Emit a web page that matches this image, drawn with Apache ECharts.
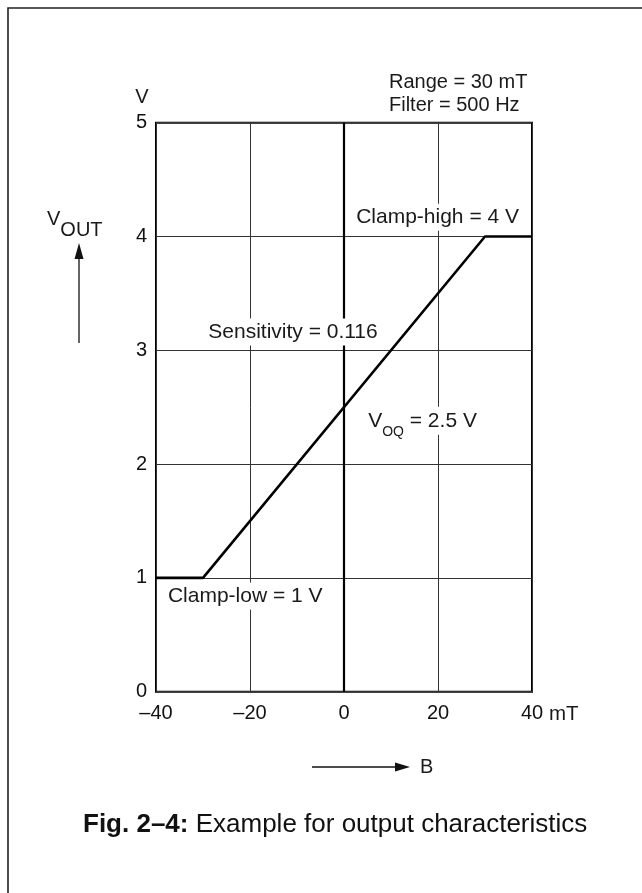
<!DOCTYPE html>
<html><head><meta charset="utf-8">
<script src="https://cdn.jsdelivr.net/npm/echarts@6/dist/echarts.min.js"></script>
<style>html,body{margin:0;padding:0;background:#fff}#c{width:642px;height:893px}</style>
</head><body><div id="c"></div>
<script>
(function () {
// ---- data ----
const curveB = [-40, -30, 30, 40];      // mT
const curveV = [1, 1, 4, 4];            // V
const xTickValues = [-40, -20, 0, 20, 40];
const xTickLabels = ['–40', '–20', '0', '20', '40'];
const yTickLabels = ['0', '1', '2', '3', '4', '5'];
const annotations = [
  { text: 'Sensitivity = 0.116', x: -10.85, y: 3.16, align: 'center' },
  { text: 'Clamp-high = 4 V', x: 1.95, y: 4.17, align: 'left' },
  { text: '{v|V}{s|OQ}{v| = 2.5 V}', x: 4.5, y: 2.38, align: 'left', rich: true },
  { text: 'Clamp-low = 1 V', x: -38.1, y: 0.84, align: 'left' }
];
const notes = [
  { text: 'Range = 30 mT', x: 9.57, y: 5.35 },
  { text: 'Filter = 500 Hz', x: 9.57, y: 5.155 }
];
const FONT = '"Liberation Sans", Arial, Helvetica, sans-serif';

const chart = echarts.init(document.getElementById('c'), null, { renderer: 'canvas' });
const GRID = { left: 156, top: 122.7, width: 376, height: 569 };

chart.setOption({
  animation: false,
  backgroundColor: '#fff',
  grid: Object.assign({ show: true, borderColor: '#000', borderWidth: 2, backgroundColor: 'transparent' }, GRID),
  xAxis: {
    type: 'value', min: -40, max: 40, interval: 20,
    axisLine: { show: false }, axisTick: { show: false },
    splitLine: { show: true, lineStyle: { color: '#333', width: 1 } },
    axisLabel: {
      margin: 12, color: '#111', fontSize: 20, fontFamily: FONT,
      formatter: v => { const i = xTickValues.indexOf(v); return i >= 0 ? xTickLabels[i] : ''; }
    }
  },
  yAxis: {
    type: 'value', min: 0, max: 5, interval: 1,
    axisLine: { show: false }, axisTick: { show: false },
    splitLine: { show: true, lineStyle: { color: '#333', width: 1 } },
    axisLabel: {
      margin: 9, color: '#111', fontSize: 20, fontFamily: FONT,
      formatter: v => yTickLabels[Math.round(v)] || ''
    }
  },
  series: [{
    type: 'line',
    data: curveB.map((b, i) => [b, curveV[i]]),
    symbol: 'none',
    lineStyle: { color: '#000', width: 2.6 },
    z: 5,
    markLine: {
      silent: true, symbol: ['none', 'none'], label: { show: false },
      lineStyle: { color: '#000', width: 2.2, type: 'solid' },
      data: [{ xAxis: 0 }]
    }
  }]
});

function px(x, y) { return chart.convertToPixel({ gridIndex: 0 }, [x, y]); }

const g = [];
const textBase = { fill: '#1a1a1a', fontSize: 21, fontFamily: FONT, verticalAlign: 'middle' };

annotations.forEach(a => {
  const p = px(a.x, a.y);
  const style = Object.assign({}, textBase, {
    text: a.text, align: a.align, backgroundColor: '#fff', padding: [3, 3, 3, 3]
  });
  if (a.rich) {
    style.rich = {
      v: { fontSize: 21, fontFamily: FONT, fill: '#1a1a1a', lineHeight: 22 },
      s: { fontSize: 14, fontFamily: FONT, fill: '#1a1a1a', lineHeight: 16, padding: [22, 0, 0, 0] }
    };
  }
  g.push({ type: 'text', x: p[0], y: p[1], z: 100, style });
});

notes.forEach(n => {
  const p = px(n.x, n.y);
  g.push({ type: 'text', x: p[0], y: p[1], z: 100,
    style: Object.assign({}, textBase, { text: n.text, align: 'left', fontSize: 20 }) });
});

// axis units
const tl = px(-40, 5);
g.push({ type: 'text', x: tl[0] - 14, y: tl[1] - 25, z: 100,
  style: Object.assign({}, textBase, { text: 'V', align: 'center', fontSize: 20 }) });
const xr = px(40, 0);
g.push({ type: 'text', x: xr[0] + 17, y: xr[1] + 23, z: 100,
  style: Object.assign({}, textBase, { text: 'mT', align: 'left', fontSize: 20.5 }) });

// V_OUT label + arrow
g.push({ type: 'text', x: 47, y: 219, z: 100,
  style: Object.assign({}, textBase, { text: '{v|V}{s|OUT}', align: 'left',
    rich: {
      v: { fontSize: 20, fontFamily: FONT, fill: '#1a1a1a', lineHeight: 20 },
      s: { fontSize: 20, fontFamily: FONT, fill: '#1a1a1a', lineHeight: 20, padding: [22, 0, 0, 0] }
    } }) });
g.push({ type: 'line', z: 100, shape: { x1: 79, y1: 343, x2: 79, y2: 256 }, style: { stroke: '#111', lineWidth: 1.3 } });
g.push({ type: 'polygon', z: 100, shape: { points: [[79, 243], [74.5, 259], [83.5, 259]] }, style: { fill: '#111' } });

// B arrow
g.push({ type: 'line', z: 100, shape: { x1: 312, y1: 767, x2: 398, y2: 767 }, style: { stroke: '#111', lineWidth: 1.3 } });
g.push({ type: 'polygon', z: 100, shape: { points: [[410, 767], [395, 762.5], [395, 771.5]] }, style: { fill: '#111' } });
g.push({ type: 'text', x: 420, y: 767, z: 100,
  style: Object.assign({}, textBase, { text: 'B', align: 'left', fontSize: 20 }) });

// caption
g.push({ type: 'text', x: 83, y: 825, z: 100,
  style: { text: '{b|Fig. 2–4:}{r| Example for output characteristics}', align: 'left', verticalAlign: 'middle',
    rich: {
      b: { fontSize: 26, fontWeight: 'bold', fontFamily: FONT, fill: '#111' },
      r: { fontSize: 26, fontFamily: FONT, fill: '#111' }
    } } });

// outer frame (top and left edges)
g.push({ type: 'polyline', z: 100, shape: { points: [[8, 893], [8, 8], [642, 8]] }, style: { stroke: '#222', lineWidth: 1.6, fill: null } });

chart.setOption({ graphic: { elements: g } });
})();
</script></body></html>
